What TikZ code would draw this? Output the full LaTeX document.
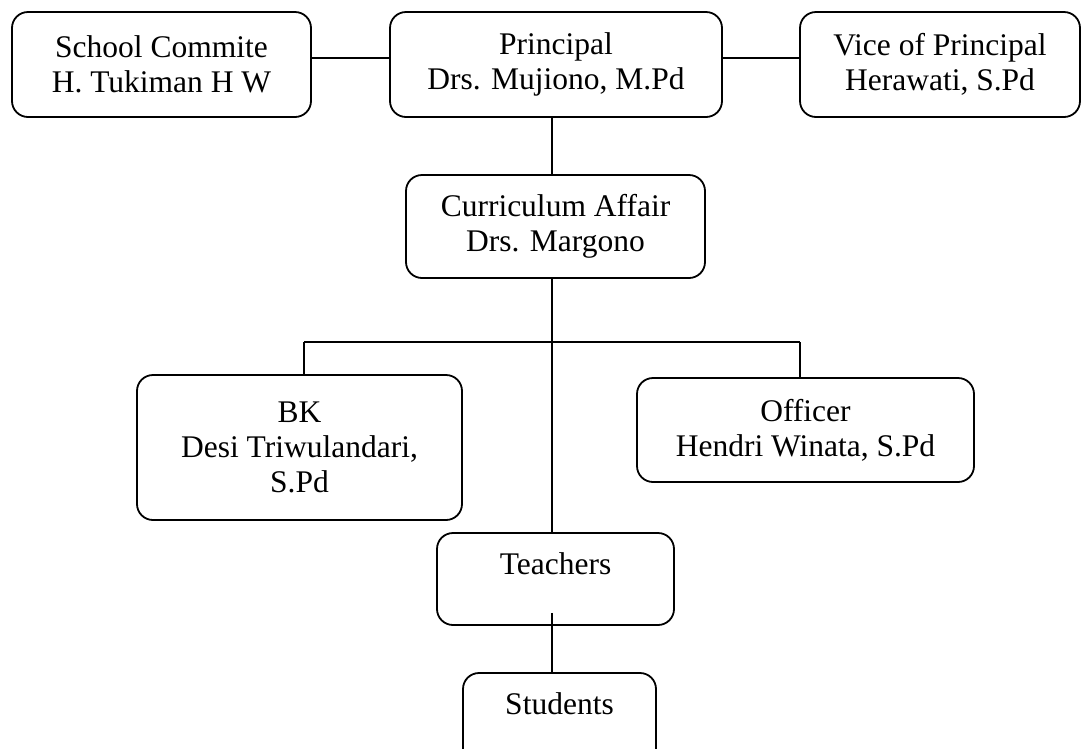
\documentclass[tikz,border=0pt]{standalone}
\usepackage{fontspec}
\setmainfont{Liberation Serif}
\usepackage{xcolor}
\usetikzlibrary{calc}
\usetikzlibrary{positioning}
\tikzset{orgbox/.style={draw, line width=1.8pt, rounded corners=16pt, inner sep=0pt, align=center,
    font=\fontsize{31.5}{35}\selectfont},
  orgline/.style={line width=1.8pt}}

\begin{document}
\begin{tikzpicture}[x=1pt,y=-1pt]
\useasboundingbox (0,0) rectangle (1088,748);
\node[orgbox, minimum width=299pt, minimum height=105pt] (commite) at (161.5,64.5) {School Commite\\H. Tukiman H W};
\node[orgbox, minimum width=332pt, minimum height=105pt] (principal) at (556,64.5) {Principal\\Drs. Mujiono, M.Pd};
\node[orgbox, minimum width=280pt, minimum height=105pt] (vice) at (940,64.5) {Vice of Principal\\Herawati, S.Pd};
\node[orgbox, minimum width=299pt, minimum height=103pt] (curric) at (555.5,226.5) {Curriculum Affair\\Drs. Margono};
\node[orgbox, minimum width=325pt, minimum height=145pt] (bk) at (299.5,447.5) {BK\\Desi Triwulandari,\\S.Pd};
\node[orgbox, minimum width=337pt, minimum height=104pt] (officer) at (805.5,430) {Officer\\Hendri Winata, S.Pd};
\node[orgbox, minimum width=237pt, minimum height=92pt, text depth=31pt] (teachers) at (555.5,579) {Teachers};
\node[orgbox, minimum width=193pt, minimum height=92pt, text depth=31pt] (students) at (559.5,719) {Students};
\coordinate (fork) at (552,342);
\coordinate (lfork) at (304,342);
\coordinate (rfork) at (800,342);
\draw[orgline] ([yshift=6.5pt]commite.east) -- ([yshift=6.5pt]principal.west);
\draw[orgline] ([yshift=6.5pt]principal.east) -- ([yshift=6.5pt]vice.west);
\draw[orgline] (principal.south -| fork) -- (curric.north -| fork);
\draw[orgline] (curric.south -| fork) -- (teachers.north -| fork);
\draw[orgline] (lfork) -- (rfork);
\draw[orgline] (lfork) -- (lfork |- bk.north);
\draw[orgline] (rfork) -- (rfork |- officer.north);
\draw[orgline] ($(teachers.south -| fork)+(0,-13)$) -- (students.north -| fork);
\end{tikzpicture}
\end{document}
